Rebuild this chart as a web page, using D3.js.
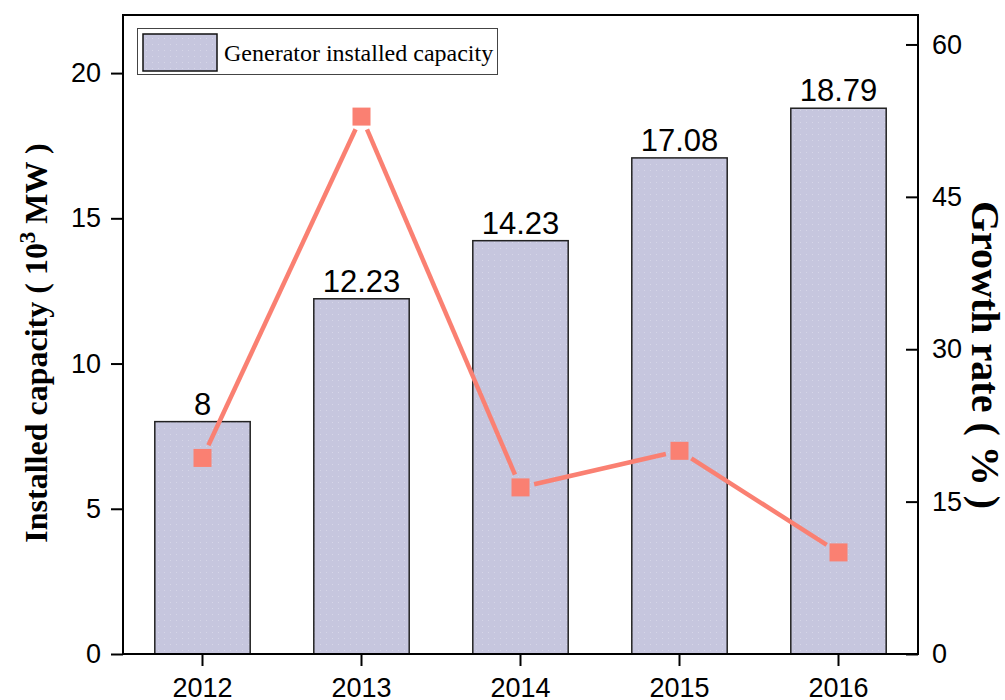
<!DOCTYPE html>
<html><head><meta charset="utf-8">
<script src="https://cdn.jsdelivr.net/npm/d3@7"></script>
<style>body{margin:0;background:#fff}</style>
</head><body>
<svg id="c" width="1005" height="700"></svg>
<script>
const years = ["2012","2013","2014","2015","2016"];
const capacity = [8, 12.23, 14.23, 17.08, 18.79];
const capacityLabels = ["8","12.23","14.23","17.08","18.79"];
const growth = [19.3, 52.9, 16.4, 20.0, 10.0];
const leftTicks = [0,5,10,15,20];
const rightTicks = [0,15,30,45,60];

const svg = d3.select("#c");
const L=123, R=918, T=15, B=654;
const x = d3.scaleBand().domain(years).range([L,R]).paddingInner(0.4).paddingOuter(0.2);
const y = d3.scaleLinear().domain([0,22]).range([B,T]);
const y2 = d3.scaleLinear().domain([0,62.9]).range([B,T]);

const defs = svg.append("defs");
const pat = defs.append("pattern").attr("id","dots").attr("patternUnits","userSpaceOnUse").attr("width",6).attr("height",6);
pat.append("rect").attr("width",6).attr("height",6).attr("fill","#C6C6DE");
pat.append("rect").attr("x",2).attr("y",2).attr("width",1).attr("height",1).attr("fill","#d6d6e8");

// bars
svg.selectAll("rect.bar").data(capacity).join("rect").attr("class","bar")
  .attr("x",(d,i)=>x(years[i])).attr("width",x.bandwidth())
  .attr("y",d=>y(d)).attr("height",d=>B-y(d))
  .attr("fill","url(#dots)").attr("stroke","#222").attr("stroke-width",1.5);

// value labels
svg.selectAll("text.val").data(capacity).join("text").attr("class","val")
  .attr("x",(d,i)=>x(years[i])+x.bandwidth()/2).attr("y",d=>y(d)-7)
  .attr("text-anchor","middle").attr("font-family","Arial, 'Liberation Sans', sans-serif")
  .attr("font-size",31).attr("fill","#000").text((d,i)=>capacityLabels[i]);

// growth line segments with gaps
const pts = growth.map((g,i)=>[x(years[i])+x.bandwidth()/2, y2(g)]);
const gap = 14;
const segs = [];
for(let i=0;i<pts.length-1;i++){
  const [x0,y0]=pts[i],[x1,y1]=pts[i+1];
  const dx=x1-x0, dy=y1-y0, len=Math.hypot(dx,dy);
  const ux=dx/len, uy=dy/len;
  segs.push([x0+ux*gap,y0+uy*gap,x1-ux*gap,y1-uy*gap]);
}
svg.selectAll("line.seg").data(segs).join("line").attr("class","seg")
  .attr("x1",d=>d[0]).attr("y1",d=>d[1]).attr("x2",d=>d[2]).attr("y2",d=>d[3])
  .attr("stroke","#FA8072").attr("stroke-width",4.5);
svg.selectAll("rect.mk").data(growth).join("rect").attr("class","mk")
  .attr("x",(d,i)=>x(years[i])+x.bandwidth()/2-9).attr("y",d=>y2(d)-9)
  .attr("width",18).attr("height",18).attr("fill","#FA8072");

// frame
svg.append("rect").attr("x",L).attr("y",T).attr("width",R-L).attr("height",B-T)
  .attr("fill","none").attr("stroke","#000").attr("stroke-width",2);

const tickFont = "Arial, 'Liberation Sans', sans-serif";
// left axis
const la = svg.append("g").attr("transform",`translate(${L},0)`)
  .call(d3.axisLeft(y).tickValues(leftTicks).tickSize(12).tickPadding(10));
// right axis (inward ticks)
const ra = svg.append("g").attr("transform",`translate(${R},0)`)
  .call(d3.axisRight(y2).tickValues(rightTicks).tickSize(-12).tickPadding(14));
// bottom axis
const ba = svg.append("g").attr("transform",`translate(0,${B})`)
  .call(d3.axisBottom(x).tickSize(12).tickPadding(12));
[la,ra,ba].forEach(g=>{
  g.select(".domain").remove();
  g.selectAll(".tick line").attr("stroke","#000").attr("stroke-width",2);
  g.selectAll(".tick text").attr("font-family",tickFont).attr("font-size",27).attr("fill","#000");
});

// axis titles
const lt = svg.append("text").attr("transform","translate(47,343) rotate(-90)")
  .attr("text-anchor","middle").attr("font-family","'Liberation Serif','Times New Roman',serif")
  .attr("font-weight","bold").attr("font-size",32).attr("fill","#000");
lt.append("tspan").text("Installed capacity ( 10");
lt.append("tspan").attr("dy",-12).attr("font-size",23).text("3");
lt.append("tspan").attr("dy",12).text(" MW )");

svg.append("text").attr("transform","translate(972,355) rotate(90)")
  .attr("text-anchor","middle").attr("font-family","'Liberation Serif','Times New Roman',serif")
  .attr("font-weight","bold").attr("font-size",40).attr("fill","#000").text("Growth rate ( % )");

// legend
svg.append("rect").attr("x",137.5).attr("y",28.5).attr("width",360).attr("height",46)
  .attr("fill","#fff").attr("stroke","#444").attr("stroke-width",1);
svg.append("rect").attr("x",143).attr("y",34).attr("width",74).attr("height",37)
  .attr("fill","url(#dots)").attr("stroke","#111").attr("stroke-width",1.5);
svg.append("text").attr("x",224).attr("y",61).attr("font-family","'Liberation Serif','Times New Roman',serif")
  .attr("font-size",24).attr("fill","#000").text("Generator installed capacity");
</script>
</body></html>
